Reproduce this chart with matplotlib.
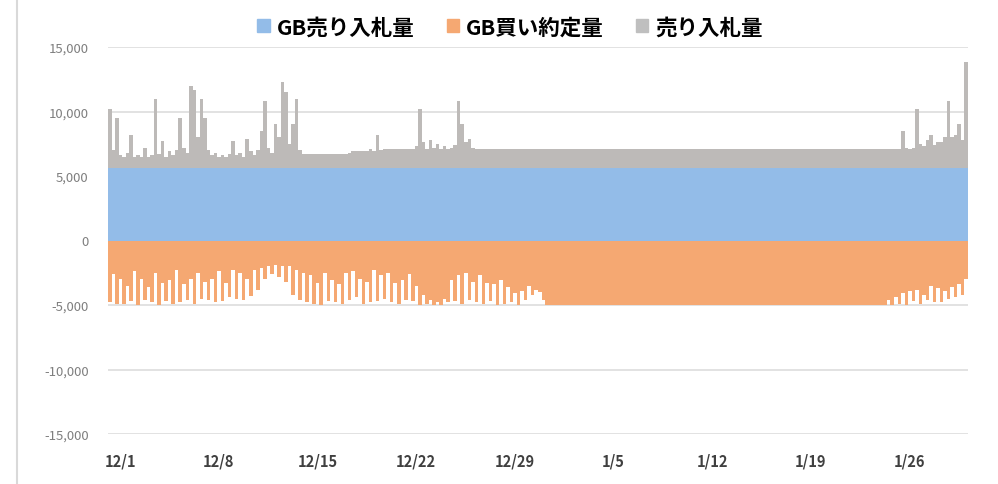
import numpy as np
import matplotlib
matplotlib.use("Agg")
import matplotlib.pyplot as plt
from matplotlib.patches import Patch
from matplotlib.transforms import ScaledTranslation

plt.rcParams['font.family'] = ['Noto Sans CJK JP', 'DejaVu Sans']

# 6-hourly readings, 12/1 .. 1/30 (4 values per day)
sell_total = [
    10200, 7000, 9500, 6600,   6500, 6800, 8200, 6500,   6600, 6500, 7200, 6500,
    6600, 11000, 6700, 7700,   6500, 6900, 6600, 7000,   9500, 7200, 6800, 12000,
    11700, 8000, 11000, 9500,  7000, 6600, 6800, 6500,   6600, 6500, 6700, 7700,
    6600, 6800, 6500, 7900,    6900, 6600, 7000, 8500,   10800, 7200, 6800, 9000,
    8000, 12300, 11500, 7500,  9000, 11000, 7000, 6700,  6700, 6700, 6700, 6700,
    6700, 6700, 6700, 6700,    6700, 6700, 6700, 6700,   6800, 6900, 6900, 6900,
    6900, 6900, 7100, 6900,    8200, 7000, 7100, 7100,   7100, 7100, 7100, 7100,
    7100, 7100, 7100, 7300,    10200, 7600, 7100, 7800,  7200, 7500, 7100, 7300,
    7100, 7200, 7400, 10800,   9000, 7600, 7900, 7200,   7100, 7100, 7100, 7100,
    7100, 7100, 7100, 7100,    7100, 7100, 7100, 7100,   7100, 7100, 7100, 7100,
    7100, 7100, 7100, 7100,    7100, 7100, 7100, 7100,   7100, 7100, 7100, 7100,
    7100, 7100, 7100, 7100,    7100, 7100, 7100, 7100,   7100, 7100, 7100, 7100,
    7100, 7100, 7100, 7100,    7100, 7100, 7100, 7100,   7100, 7100, 7100, 7100,
    7100, 7100, 7100, 7100,    7100, 7100, 7100, 7100,   7100, 7100, 7100, 7100,
    7100, 7100, 7100, 7100,    7100, 7100, 7100, 7100,   7100, 7100, 7100, 7100,
    7100, 7100, 7100, 7100,    7100, 7100, 7100, 7100,   7100, 7100, 7100, 7100,
    7100, 7100, 7100, 7100,    7100, 7100, 7100, 7100,   7100, 7100, 7100, 7100,
    7100, 7100, 7100, 7100,    7100, 7100, 7100, 7100,   7100, 7100, 7100, 7100,
    7100, 7100, 7100, 7100,    7100, 7100, 7100, 7100,   7100, 8500, 7200, 7100,
    7200, 10200, 7500, 7300,   7800, 8200, 7400, 7600,   7600, 8000, 10800, 8000,
    8200, 9000, 7800, 13800,
]

gb_buy = [
    -4800, -2600, -4900, -3000,  -4900, -3500, -4700, -2400,  -5000, -3000, -4600, -3600,
    -4800, -2500, -5000, -3300,  -4700, -3100, -4900, -2300,  -4800, -3400, -4600, -3000,
    -4900, -2500, -4500, -3200,  -4600, -3000, -4800, -2400,  -4700, -3300, -4400, -2300,
    -4500, -2500, -4600, -3000,  -4300, -2300, -3800, -2100,  -3000, -2000, -2600, -1900,
    -2800, -2000, -3200, -2000,  -4200, -2300, -4600, -2500,  -4800, -2700, -4900, -3300,
    -5000, -2500, -4700, -3100,  -4800, -3400, -4900, -2500,  -4600, -2400, -4400, -3000,
    -4900, -3200, -4800, -2300,  -4700, -2700, -4500, -2500,  -4800, -3300, -4900, -3100,
    -4600, -2600, -4700, -3500,  -5000, -4200, -4900, -4600,  -5000, -4800, -5000, -4500,
    -4800, -3100, -4700, -2700,  -4900, -2500, -4600, -3200,  -4800, -2700, -4900, -3300,
    -4700, -3400, -5000, -3100,  -4900, -3600, -4800, -4100,  -5000, -3900, -4600, -3500,
    -4200, -3800, -4000, -4600,  -5000, -5000, -5000, -5000,  -5000, -5000, -5000, -5000,
    -5000, -5000, -5000, -5000,  -5000, -5000, -5000, -5000,  -5000, -5000, -5000, -5000,
    -5000, -5000, -5000, -5000,  -5000, -5000, -5000, -5000,  -5000, -5000, -5000, -5000,
    -5000, -5000, -5000, -5000,  -5000, -5000, -5000, -5000,  -5000, -5000, -5000, -5000,
    -5000, -5000, -5000, -5000,  -5000, -5000, -5000, -5000,  -5000, -5000, -5000, -5000,
    -5000, -5000, -5000, -5000,  -5000, -5000, -5000, -5000,  -5000, -5000, -5000, -5000,
    -5000, -5000, -5000, -5000,  -5000, -5000, -5000, -5000,  -5000, -5000, -5000, -5000,
    -5000, -5000, -5000, -5000,  -5000, -5000, -5000, -5000,  -5000, -5000, -5000, -5000,
    -5000, -5000, -5000, -5000,  -5000, -4600, -5000, -4400,  -4900, -4100, -5000, -3900,
    -4700, -3800, -4900, -4200,  -4600, -3500, -4800, -3700,  -4800, -3900, -4500, -3600,
    -4400, -3400, -4200, -3000,
]

# daily values
gb_sell = [
    5600, 5600, 5600, 5600, 5600, 5600, 5600, 5600, 5600, 5600,
    5600, 5600, 5600, 5600, 5600, 5600, 5600, 5600, 5600, 5600,
    5600, 5600, 5600, 5600, 5600, 5600, 5600, 5600, 5600, 5600,
    5600, 5600, 5600, 5600, 5600, 5600, 5600, 5600, 5600, 5600,
    5600, 5600, 5600, 5600, 5600, 5600, 5600, 5600, 5600, 5600,
    5600, 5600, 5600, 5600, 5600, 5600, 5600, 5600, 5600, 5600,
    5600,
]

tick_days = [0, 7, 14, 21, 28, 35, 42, 49, 56]
tick_labels = ["12/1", "12/8", "12/15", "12/22", "12/29", "1/5", "1/12", "1/19", "1/26"]

c_blue = "#93BCE8"
c_orange = "#F5A872"
c_gray = "#BDBAB8"

t6 = np.arange(len(sell_total) + 1) / 4
td = np.arange(len(gb_sell) + 1)
total = np.append(sell_total, sell_total[-1])
buy = np.append(gb_buy, gb_buy[-1])
blue = np.append(gb_sell, gb_sell[-1])

fig = plt.figure(figsize=(9.98, 4.85), dpi=100)
ax = fig.add_axes([108 / 998, 1 - 435 / 485, 860 / 998, 387 / 485])

ax.fill_between(t6, 0, total, step="post", color=c_gray, lw=0, zorder=2)
ax.fill_between(td, 0, blue, step="post", color=c_blue, lw=0, zorder=3)
ax.fill_between(t6, 0, buy, step="post", color=c_orange, lw=0, zorder=3)

ax.set_xlim(0, 61)
ax.set_ylim(-15000, 15000)
ax.set_yticks(range(-15000, 15001, 5000))
ax.set_yticklabels([f"{v:,}" for v in range(-15000, 15001, 5000)])
ax.grid(axis="y", color="#DDDDDD", lw=1.2, zorder=0)
ax.set_axisbelow(True)
for s in ax.spines.values():
    s.set_visible(False)

ax.set_xticks(tick_days)
ax.set_xticklabels(tick_labels, fontweight="bold")
ax.tick_params(axis="y", length=0, pad=14, labelsize=9.5, labelcolor="#7F7F7F")
ax.tick_params(axis="x", length=0, pad=13, labelsize=10.5, labelcolor="#404040")
offset = ScaledTranslation(12 / 100, 0, fig.dpi_scale_trans)
for lab in ax.get_xticklabels():
    lab.set_transform(lab.get_transform() + offset)

handles = [Patch(color=c_blue), Patch(color=c_orange), Patch(color="#BFBFBF")]
fig.legend(handles, ["GB売り入札量", "GB買い約定量", "売り入札量"],
           loc="center", bbox_to_anchor=(510 / 998, 1 - 28 / 485), ncol=3,
           frameon=False, prop={"size": 15.5, "weight": "bold"},
           handlelength=0.56, handleheight=0.56, handletextpad=0.33,
           columnspacing=1.5)

fig.add_artist(plt.Line2D([17 / 998, 17 / 998], [0, 1], color="#D9D9D9", lw=1.5))

fig.savefig("out.png", dpi=100)
